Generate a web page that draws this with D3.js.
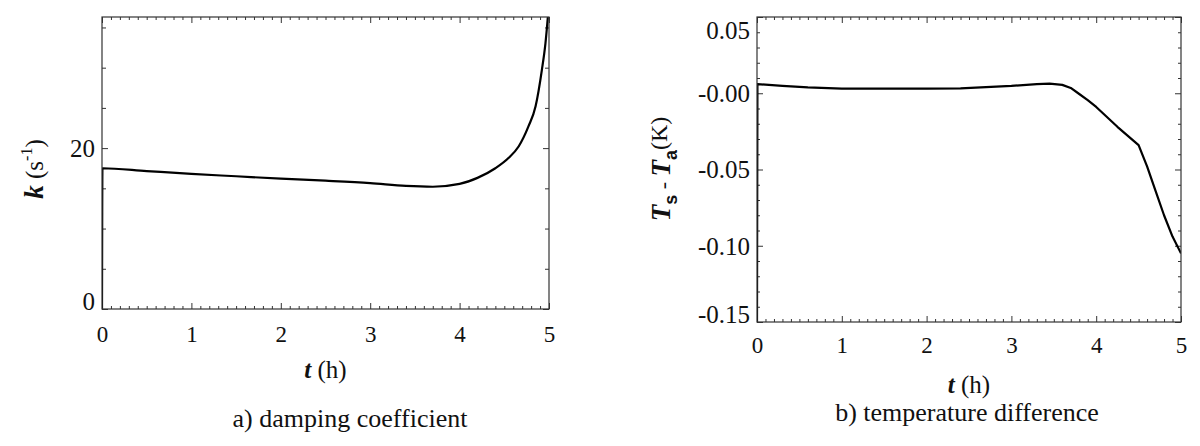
<!DOCTYPE html>
<html>
<head>
<meta charset="utf-8">
<script src="https://cdn.jsdelivr.net/npm/d3@7"></script>
<style>
  body { margin: 0; background: #fff; }
</style>
</head>
<body>
<svg id="chart" width="1200" height="446"></svg>
<script>
// a) damping coefficient k (1/s) against time (h)
var hoursA = [0, 0.005, 0.5, 1, 1.5, 2, 2.5, 3, 3.4, 3.7, 4.0, 4.2, 4.4, 4.55, 4.66, 4.77, 4.85, 4.92, 4.96, 5.0];
var dampingK = [0, 17.5, 17.15, 16.8, 16.5, 16.2, 15.95, 15.65, 15.3, 15.2, 15.55, 16.3, 17.5, 18.8, 20.2, 22.7, 25.2, 29.7, 33, 38];

// b) temperature difference Ts - Ta (K) against time (h)
var hoursB = [0, 0.005, 0.3, 0.6, 1.0, 1.5, 2.0, 2.4, 3.0, 3.3, 3.45, 3.6, 3.7, 3.8, 3.9, 4.0, 4.25, 4.5, 4.6, 4.7, 4.8, 4.9, 5.0];
var tempDiff = [-0.15, 0.006, 0.0048, 0.0038, 0.003, 0.003, 0.003, 0.0032, 0.0048, 0.006, 0.0063, 0.0055, 0.0035, -0.0005, -0.0045, -0.009, -0.022, -0.034, -0.048, -0.064, -0.080, -0.094, -0.105];

var hourTicks = [0, 1, 2, 3, 4, 5];
var hourMinorTicks = [0.1, 0.2, 0.3, 0.4, 0.5, 0.6, 0.7, 0.8, 0.9, 1.1, 1.2, 1.3, 1.4, 1.5, 1.6, 1.7, 1.8, 1.9,
  2.1, 2.2, 2.3, 2.4, 2.5, 2.6, 2.7, 2.8, 2.9, 3.1, 3.2, 3.3, 3.4, 3.5, 3.6, 3.7, 3.8, 3.9,
  4.1, 4.2, 4.3, 4.4, 4.5, 4.6, 4.7, 4.8, 4.9];
var kTicks = [0, 20];
var kMinorTicks = [5, 10, 15, 25, 30, 35];
var dTTicks = [0.05, 0, -0.05, -0.10, -0.15];
var dTMinorTicks = [0.04, 0.03, 0.02, 0.01, -0.01, -0.02, -0.03, -0.04, -0.06, -0.07, -0.08, -0.09,
  -0.11, -0.12, -0.13, -0.14];

var serif = "'Liberation Serif', Tinos, 'Times New Roman', Times, 'DejaVu Serif', 'Noto Serif', serif";
var sans = "'Liberation Sans', Arial, 'DejaVu Sans', sans-serif";

var svg = d3.select("#chart").attr("font-family", serif);

function drawPanel(p) {
  var x = d3.scaleLinear().domain([0, 5]).range([p.left, p.right]);
  var y = d3.scaleLinear().domain(p.yDomain).range([p.bottom, p.top]);
  var g = svg.append("g").attr("class", "panel " + p.id);

  // minor ticks on all four sides
  g.append("g").attr("transform", "translate(0," + p.bottom + ")")
    .call(d3.axisBottom(x).tickValues(hourMinorTicks).tickSize(-3).tickFormat(""));
  g.append("g").attr("transform", "translate(0," + p.top + ")")
    .call(d3.axisTop(x).tickValues(hourMinorTicks).tickSize(-3).tickFormat(""));
  g.append("g").attr("transform", "translate(" + p.left + ",0)")
    .call(d3.axisLeft(y).tickValues(p.yMinor).tickSize(-p.yMinorLen).tickFormat(""));
  g.append("g").attr("transform", "translate(" + p.right + ",0)")
    .call(d3.axisRight(y).tickValues(p.yMinor).tickSize(-p.yMinorLen).tickFormat(""));

  // major ticks
  var xb = g.append("g").attr("class", "x axis").attr("transform", "translate(0," + p.bottom + ")")
    .call(d3.axisBottom(x).tickValues(hourTicks).tickSize(-6).tickFormat(d3.format("d")));
  g.append("g").attr("transform", "translate(0," + p.top + ")")
    .call(d3.axisTop(x).tickValues(hourTicks).tickSize(-6).tickFormat(""));
  var yl = g.append("g").attr("class", "y axis").attr("transform", "translate(" + p.left + ",0)")
    .call(d3.axisLeft(y).tickValues(p.yTicks).tickSize(-6).tickFormat(p.yFormat));
  g.append("g").attr("transform", "translate(" + p.right + ",0)")
    .call(d3.axisRight(y).tickValues(p.yTicks).tickSize(-6).tickFormat(""));

  g.selectAll(".domain").remove();
  g.selectAll(".tick line").attr("stroke", "#333");
  g.selectAll(".axis, g").attr("font-family", serif);

  xb.selectAll("text")
    .attr("y", p.xLabelBase).attr("dy", null)
    .attr("fill", "#111")
    .style("font-family", serif).style("font-size", "23px");
  yl.selectAll("text")
    .attr("x", -7)
    .attr("y", function(d) {
      var v = y(d), c = Math.max(p.top + 13, Math.min(p.bottom - 8, v));
      return c - v;
    })
    .attr("dy", "0.33em")
    .attr("fill", "#111")
    .style("font-family", serif).style("font-size", "25px");

  // the curve
  var clipId = "clip-" + p.id;
  g.append("clipPath").attr("id", clipId).append("rect")
    .attr("x", p.left).attr("y", p.top)
    .attr("width", p.right - p.left).attr("height", p.bottom - p.top);

  var line = d3.line()
    .x(function(d) { return x(d[0]); })
    .y(function(d) { return y(d[1]); })
    .curve(p.curve);

  g.append("path")
    .datum(d3.zip(p.xs, p.ys))
    .attr("clip-path", "url(#" + clipId + ")")
    .attr("fill", "none")
    .attr("stroke", "#000")
    .attr("stroke-width", 2.2)
    .attr("stroke-linejoin", "round")
    .attr("d", line);

  // frame
  g.append("rect")
    .attr("x", p.left).attr("y", p.top)
    .attr("width", p.right - p.left).attr("height", p.bottom - p.top)
    .attr("fill", "none").attr("stroke", "#333").attr("stroke-width", 1.2);

  // x title: t (h)
  var xt = g.append("text")
    .attr("x", (p.left + p.right) / 2).attr("y", p.xTitleBase)
    .attr("text-anchor", "middle").attr("fill", "#111")
    .style("font-family", serif).style("font-size", "25px");
  xt.append("tspan").attr("font-weight", "bold").attr("font-style", "italic").text("t");
  xt.append("tspan").text(" (h)");

  // caption
  g.append("text")
    .attr("x", p.captionX).attr("y", p.captionBase)
    .attr("text-anchor", "middle").attr("fill", "#111")
    .style("font-family", serif).style("font-size", "26px")
    .text(p.caption);

  return { x: x, y: y, g: g };
}

drawPanel({
  id: "a", left: 102, right: 549, top: 17, bottom: 309,
  yDomain: [0, 36.3], yTicks: kTicks, yMinor: kMinorTicks, yMinorLen: 4,
  yFormat: d3.format("d"), curve: d3.curveMonotoneX,
  xs: hoursA, ys: dampingK,
  xLabelBase: 33, xTitleBase: 378,
  caption: "a) damping coefficient", captionX: 350, captionBase: 427
});

drawPanel({
  id: "b", left: 757, right: 1181, top: 17, bottom: 322,
  yDomain: [-0.15, 0.05], yTicks: dTTicks, yMinor: dTMinorTicks, yMinorLen: 3,
  yFormat: function(d) { return (d <= 0 ? "-" : "") + Math.abs(d).toFixed(2); },
  curve: d3.curveLinear,
  xs: hoursB, ys: tempDiff,
  xLabelBase: 31, xTitleBase: 393,
  caption: "b) temperature difference", captionX: 967, captionBase: 421
});

// y titles
var kt = svg.append("text")
  .attr("transform", "translate(43,169) rotate(-90)")
  .attr("text-anchor", "middle").attr("fill", "#111")
  .style("font-family", serif).style("font-size", "25px");
kt.append("tspan").attr("font-weight", "bold").attr("font-style", "italic").style("font-size", "27px").text("k");
kt.append("tspan").text(" (s");
kt.append("tspan").attr("dy", -11).style("font-size", "16px").text("-1");
kt.append("tspan").attr("dy", 11).text(")");

var tt = svg.append("text")
  .attr("transform", "translate(670,169) rotate(-90)")
  .attr("text-anchor", "middle").attr("fill", "#111")
  .style("font-family", serif).style("font-size", "22px");
tt.append("tspan").attr("font-weight", "bold").attr("font-style", "italic").style("font-size", "27px").text("T");
tt.append("tspan").attr("dy", 7).style("font-family", sans).attr("font-weight", "bold").style("font-size", "18px").text("s");
tt.append("tspan").attr("dy", -7).text(" - ");
tt.append("tspan").attr("font-weight", "bold").attr("font-style", "italic").style("font-size", "27px").text("T");
tt.append("tspan").attr("dy", 7).style("font-family", sans).attr("font-weight", "bold").style("font-size", "18px").text("a");
tt.append("tspan").attr("dy", -10).style("font-size", "24px").text("(K)");
</script>
</body>
</html>
